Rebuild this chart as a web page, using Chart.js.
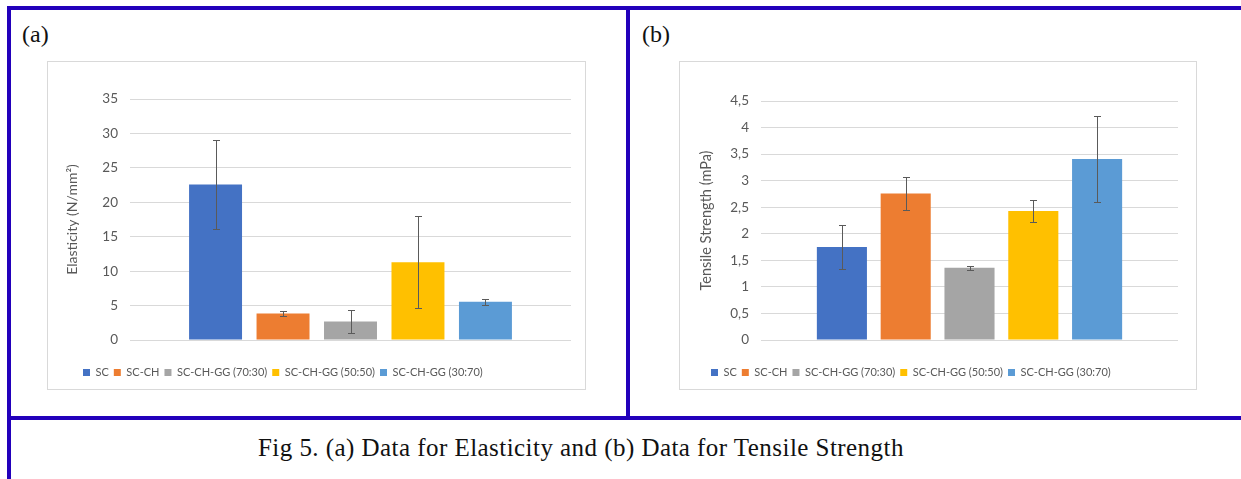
<!DOCTYPE html>
<html>
<head>
<meta charset="utf-8">
<script src="https://cdn.jsdelivr.net/npm/chart.js@4.4.1/dist/chart.umd.min.js"></script>
<style>
  html, body { margin: 0; padding: 0; background: #fff; }
  body { width: 1241px; height: 479px; position: relative; overflow: hidden; }
  .rule { position: absolute; background: #2200bb; }
  .panel-label { position: absolute; font-family: "Liberation Serif", "Times New Roman", serif; font-size: 24px; color: #111; line-height: 1; }
  .chart-box { position: absolute; border: 1px solid #d9d9d9; box-sizing: border-box; background: #fff; }
  .chart-box canvas { display: block; }
  .caption { position: absolute; left: 258px; top: 435px; font-family: "Liberation Serif", "Times New Roman", serif; font-size: 25px; letter-spacing: 0.45px; line-height: 1; color: #111; white-space: nowrap; }
</style>
</head>
<body>
<div class="rule" style="left:7px; top:6px; width:1234px; height:4px;"></div>
<div class="rule" style="left:7px; top:6px; width:4px; height:473px;"></div>
<div class="rule" style="left:626px; top:6px; width:4px; height:414px;"></div>
<div class="rule" style="left:7px; top:416px; width:1234px; height:4px;"></div>

<div class="panel-label" style="left:22px; top:22px;">(a)</div>
<div class="panel-label" style="left:642px; top:22px;">(b)</div>

<div class="chart-box" style="left:47px; top:61px; width:539px; height:329px;">
  <canvas id="elasticityChart" width="537" height="327"></canvas>
</div>
<div class="chart-box" style="left:679px; top:61px; width:518px; height:329px;">
  <canvas id="tensileChart" width="516" height="327"></canvas>
</div>

<div class="caption">Fig 5. (a) Data for Elasticity and (b) Data for Tensile Strength</div>

<script>
// Data
const seriesNames = ["SC", "SC-CH", "SC-CH-GG (70:30)", "SC-CH-GG (50:50)", "SC-CH-GG (30:70)"];
const elasticityValues = [22.6, 3.85, 2.7, 11.3, 5.55];
const elasticityErrors = [6.5, 0.4, 1.65, 6.7, 0.4];
const tensileValues = [1.75, 2.76, 1.36, 2.43, 3.41];
const tensileErrors = [0.42, 0.31, 0.04, 0.2, 0.81];
const elasticityTicks = [0, 5, 10, 15, 20, 25, 30, 35];
const tensileTicks = [0, 0.5, 1, 1.5, 2, 2.5, 3, 3.5, 4, 4.5];

const seriesColors = ["#4472C4", "#ED7D31", "#A5A5A5", "#FFC000", "#5B9BD5"];
const textGrey = "#595959";
const gridGrey = "#d9d9d9";
const legendPad = 5;

// Error bars drawn on top of each bar, through the y scale
const errorBarPlugin = {
  id: "errorBars",
  afterDatasetsDraw(chart) {
    const ctx = chart.ctx;
    const yScale = chart.scales.y;
    ctx.save();
    ctx.strokeStyle = "#5a5a5a";
    ctx.lineWidth = 1;
    chart.data.datasets.forEach((ds, i) => {
      const bar = chart.getDatasetMeta(i).data[0];
      if (!bar) return;
      const v = ds.data[0];
      const e = ds.errors[0];
      const x = Math.round(bar.x) + 0.5;
      const yTop = Math.round(yScale.getPixelForValue(v + e)) + 0.5;
      const yBot = Math.round(yScale.getPixelForValue(v - e)) + 0.5;
      ctx.beginPath();
      ctx.moveTo(x, yTop); ctx.lineTo(x, yBot);
      ctx.moveTo(x - 3.5, yTop); ctx.lineTo(x + 3.5, yTop);
      ctx.moveTo(x - 3.5, yBot); ctx.lineTo(x + 3.5, yBot);
      ctx.stroke();
    });
    ctx.restore();
  }
};

// The legend in the original sits a bit left of centre; move its box so it starts at legendX
const legendShiftPlugin = {
  id: "legendShift",
  afterLayout(chart, args, pluginOpts) {
    const lg = chart.legend;
    if (!lg || pluginOpts.x == null) return;
    const dx = pluginOpts.x - (lg.left + legendPad);
    lg.left += dx;
    lg.right += dx;
  }
};

function buildChart(canvasId, values, errors, ticks, yTitle, opts) {
  const datasets = seriesNames.map((name, i) => ({
    label: name,
    data: [values[i]],
    errors: [errors[i]],
    backgroundColor: seriesColors[i],
    borderWidth: 0,
    categoryPercentage: 0.765,
    barPercentage: 0.785
  }));

  return new Chart(document.getElementById(canvasId), {
    type: "bar",
    data: { labels: [""], datasets },
    plugins: [errorBarPlugin, legendShiftPlugin],
    options: {
      responsive: false,
      animation: false,
      layout: { padding: { left: opts.padLeft, right: opts.padRight, top: opts.padTop, bottom: 1 } },
      plugins: {
        tooltip: { enabled: false },
        legendShift: { x: opts.legendX },
        legend: {
          position: "bottom",
          align: "start",
          labels: {
            font: { family: "Lato", size: 11 },
            color: textGrey,
            boxWidth: 7,
            boxHeight: 7,
            padding: legendPad
          }
        }
      },
      scales: {
        x: {
          grid: { display: false },
          border: { display: false },
          ticks: { display: false },
          afterFit: (s) => { s.height = opts.xHeight; }
        },
        y: {
          min: ticks[0],
          max: ticks[ticks.length - 1],
          afterBuildTicks: (s) => { s.ticks = ticks.map(v => ({ value: v })); },
          grid: { color: gridGrey, lineWidth: 1, drawTicks: false },
          border: { display: false },
          ticks: {
            font: { family: "Lato", size: 13.5 },
            color: textGrey,
            padding: 12,
            callback: (v) => String(v).replace(".", ",")
          },
          title: {
            display: true,
            text: yTitle,
            font: { family: "Lato", size: opts.titleSize },
            color: textGrey,
            padding: 0
          },
          afterFit: (s) => { s.width = opts.yWidth; }
        }
      }
    }
  });
}

buildChart("elasticityChart", elasticityValues, elasticityErrors, elasticityTicks, "Elasticity (N/mm²)",
  { padLeft: 16, padRight: 14, padTop: 37, yWidth: 66, xHeight: 22, titleSize: 14, legendX: 35 });
buildChart("tensileChart", tensileValues, tensileErrors, tensileTicks, "Tensile Strength (mPa)",
  { padLeft: 18, padRight: 18, padTop: 39, yWidth: 63, xHeight: 22, titleSize: 14.5, legendX: 31 });
</script>
</body>
</html>
